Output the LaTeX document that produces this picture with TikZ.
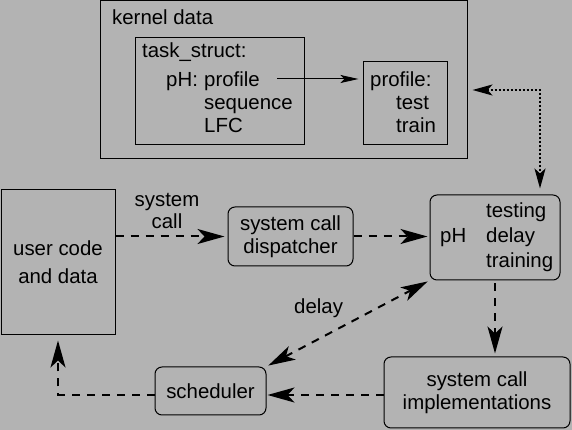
\documentclass[tikz,border=0pt]{standalone}
\usepackage{fontspec}
\setmainfont{Liberation Sans}
\usetikzlibrary{arrows.meta,calc}
\definecolor{bg}{RGB}{179,179,179}
\begin{document}
\begin{tikzpicture}[x=1pt,y=1pt,
  every node/.style={font=\fontsize{20.4}{23.3}\selectfont},
  box/.style={draw, line width=1pt, inner sep=0pt, rectangle},
  rbox/.style={box, rounded corners=7pt},
  txt/.style={anchor=base west, inner sep=0pt},
  dasharr/.style={line width=2pt, dash pattern=on 8pt off 7pt,
    -{Stealth[length=27pt,width=15pt,inset=7pt]}},
  dasharrb/.style={line width=2pt, dash pattern=on 8pt off 7pt,
    {Stealth[length=27pt,width=15pt,inset=7pt]}-{Stealth[length=27pt,width=15pt,inset=7pt]}},
  dotarr/.style={line width=2pt, dash pattern=on 2pt off 2pt,
    {Stealth[length=20pt,width=11pt,inset=5pt]}-{Stealth[length=20pt,width=11pt,inset=5pt]}},
  solarr/.style={line width=1pt, -{Stealth[length=18pt,width=8pt,inset=4pt]}}
]
\fill[bg] (0,0) rectangle (572,430);
\useasboundingbox (0,0) rectangle (572,430);

% kernel data area
\node[box, minimum width=367pt, minimum height=158pt] (kernel) at (283.5,350) {};
\node[txt] (kd) at (112,405) {kernel data};
\node[box, minimum width=169pt, minimum height=107pt] (task) at (219.5,338.5) {};
\node[txt] (ts) at (142,372) {task\_struct:};
\node[txt] (phl) at (166,343) {pH:};
\node[txt] (pf) at (204,343) {profile};
\node[txt] (sq) at (204,320) {sequence};
\node[txt] (lfc) at (204,297) {LFC};
\node[box, minimum width=84pt, minimum height=83pt] (prof) at (405,326.5) {};
\node[txt] (pft) at (370,343) {profile:};
\node[txt] (tst) at (396,320) {test};
\node[txt] (trn) at (396,297) {train};
\coordinate (pfa) at (277,351);
\draw[solarr, shorten >=4pt] (pfa) -- (pfa -| prof.west);

% lower boxes
\node[box, minimum width=114pt, minimum height=145pt, align=center,
  font=\fontsize{20.4}{28}\selectfont] (user) at (58,167.5) {user code\\and data};
\node[rbox, minimum width=125pt, minimum height=59pt, align=center] (disp) at (290.5,193.5) {system call\\dispatcher};
\node[rbox, minimum width=130pt, minimum height=85pt] (ph) at (495,192.5) {};
\node[txt] (pht) at (440,187) {pH};
\node[txt] (tsg) at (486,212) {testing};
\node[txt] (dly) at (486,187) {delay};
\node[txt] (trg) at (486,162) {training};
\node[rbox, minimum width=186pt, minimum height=71pt, align=center] (impl) at (477,37.5) {system call\\implementations};
\node[rbox, minimum width=111pt, minimum height=48pt] (sched) at (210.5,39) {scheduler};

% labels
\node[align=center, inner sep=0pt, font=\fontsize{20.4}{22.5}\selectfont] (scl) at (167,219) {system\\call};
\node[txt] (dl) at (294,116) {delay};

% connectors
\draw[dasharr, shorten >=3pt] (user.east |- disp.west) -- (disp.west);
\draw[dasharr, shorten >=2pt] (disp.east) -- (disp.east -| ph.west);
\draw[dasharr, shorten <=3pt, shorten >=3pt] (ph.south) -- (ph.south |- impl.north);
\draw[dasharrb, shorten <=2pt, shorten >=2pt] (sched.north east) -- (ph.south west);
\draw[dasharr, shorten >=1pt] (impl.west |- 0,35) -- (sched.east |- 0,35);
\draw[dasharr, shorten >=5pt] (sched.west |- 0,35) -| (user.south);
\draw[dotarr, shorten <=5pt, shorten >=6pt] ([yshift=-10pt]kernel.east) -| ([xshift=45pt]ph.north);
\end{tikzpicture}
\end{document}
